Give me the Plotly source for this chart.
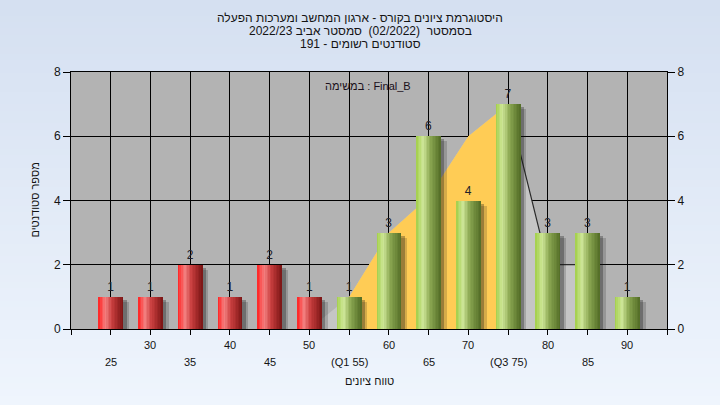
import base64
import struct
import zlib

import plotly.graph_objects as go

# ---------------- data ----------------
categories = [25, 30, 35, 40, 45, 50, 55, 60, 65, 70, 75, 80, 85, 90]
counts = [1, 1, 2, 1, 2, 1, 1, 3, 6, 4, 7, 3, 3, 1]
tick_labels = ["25", "30", "35", "40", "45", "50", "(Q1 55)", "60", "65", "70",
               "(Q3 75)", "80", "85", "90"]
pass_mark = 55
q1, q3 = 55, 75

# distribution curve drawn behind the bars
curve_x = [50, 55, 60, 65, 70, 75, 80, 85]
curve_y = [0, 1, 3, 4.1, 6, 7, 2, 2]

title_lines = [
    "היסטוגרמת ציונים בקורס - ארגון המחשב ומערכות הפעלה",
    "בסמסטר  (02/2022)  סמסטר אביב 2022/23",
    "סטודנטים רשומים - 191",
]
legend_text = "במשימה : Final_B"
x_title = "טווח ציונים"
y_title = "מספר סטודנטים"
y_ticks = [0, 2, 4, 6, 8]

# ---------------- geometry / style ----------------
W, H = 720, 405
ML, MR, MT, MB = 71, 53, 72, 76
PW, PH = W - ML - MR, H - MT - MB
FONT = "Liberation Sans, Arial, DejaVu Sans, sans-serif"
BAR_W = 3.1
N_STRIPS = 16

red_stops = [(0.0, (255, 32, 32)), (0.27, (244, 128, 128)), (0.55, (200, 62, 62)), (1.0, (122, 20, 20))]
green_stops = [(0.0, (162, 206, 72)), (0.27, (206, 231, 152)), (0.55, (140, 168, 82)), (1.0, (82, 108, 38))]


def interp(stops, t):
    for (t0, c0), (t1, c1) in zip(stops[:-1], stops[1:]):
        if t0 <= t <= t1:
            f = (t - t0) / (t1 - t0)
            return "rgb(%d,%d,%d)" % tuple(round(a + (b - a) * f) for a, b in zip(c0, c1))
    return "rgb(%d,%d,%d)" % stops[-1][1]


def py(ypix):
    return (H - MB - ypix) / PH


def px(xpix):
    return (xpix - ML) / PW


def gradient_png(h, top, bottom):
    raw = b""
    for i in range(h):
        t = i / (h - 1)
        c = bytes(round(top[k] + (bottom[k] - top[k]) * t) for k in range(3))
        raw += b"\x00" + c * 2

    def chunk(tag, data):
        return struct.pack(">I", len(data)) + tag + data + struct.pack(">I", zlib.crc32(tag + data) & 0xFFFFFFFF)

    ihdr = struct.pack(">IIBBBBB", 2, h, 8, 2, 0, 0, 0)
    png = b"\x89PNG\r\n\x1a\n" + chunk(b"IHDR", ihdr) + chunk(b"IDAT", zlib.compress(raw)) + chunk(b"IEND", b"")
    return "data:image/png;base64," + base64.b64encode(png).decode()


fig = go.Figure()

# distribution area (light grey), IQR area (yellow), right outline -- on the main (lower) subplot
fig.add_scatter(x=curve_x, y=curve_y, mode="lines", fill="tozeroy",
                fillcolor="#c5c5c5", line=dict(width=0, color="#c5c5c5"),
                hoverinfo="skip", showlegend=False)
iqr = [(x, y) for x, y in zip(curve_x, curve_y) if q1 <= x <= q3]
fig.add_scatter(x=[p[0] for p in iqr], y=[p[1] for p in iqr], mode="lines", fill="tozeroy",
                fillcolor="#ffcc55", line=dict(width=0, color="#ffcc55"),
                hoverinfo="skip", showlegend=False)
tail = [(x, y) for x, y in zip(curve_x, curve_y) if x >= q3]
fig.add_scatter(x=[p[0] for p in tail], y=[p[1] for p in tail], mode="lines",
                line=dict(width=1.2, color="#2a2a2a"), hoverinfo="skip", showlegend=False)

# bar shadows (overlay subplot, above the curve)
for off, alpha, drop in [(0.75, 0.18, 0.16), (0.45, 0.3, 0.1)]:
    fig.add_bar(x=categories, y=[v - drop for v in counts], width=BAR_W,
                offset=-BAR_W / 2 + off, yaxis="y2",
                marker=dict(color="rgba(20,20,20,%s)" % alpha, line=dict(width=0)),
                hoverinfo="skip", showlegend=False)

# bars with cylindrical gradient made of vertical strips
sw = BAR_W / N_STRIPS
for k in range(N_STRIPS):
    t = (k + 0.5) / N_STRIPS
    colors = [interp(red_stops if c < pass_mark else green_stops, t) for c in categories]
    fig.add_bar(x=categories, y=counts, width=sw + 0.03, offset=-BAR_W / 2 + k * sw, yaxis="y2",
                marker=dict(color=colors, line=dict(width=0)),
                hoverinfo="skip", showlegend=False)

# value labels (transparent bar carrying outside text)
fig.add_bar(x=categories, y=counts, width=BAR_W, offset=-BAR_W / 2, yaxis="y2",
            marker=dict(color="rgba(0,0,0,0)", line=dict(width=0)),
            text=[str(v) for v in counts], textposition="outside", constraintext="none",
            textangle=0, cliponaxis=False,
            outsidetextfont=dict(size=12, color="#20202a", family=FONT),
            hoverinfo="skip", showlegend=False)

annotations = []
for i, line in enumerate(title_lines):
    annotations.append(dict(text=line, xref="paper", yref="paper", x=px(360), y=py(18 + 13 * i),
                            showarrow=False, xanchor="center", yanchor="middle",
                            font=dict(size=12, color="#141414", family=FONT)))
for i, (v, lab) in enumerate(zip(categories, tick_labels)):
    row_y = 345 if i % 2 == 1 else 362
    annotations.append(dict(text=lab, xref="x", yref="paper", x=v, y=py(row_y),
                            showarrow=False, xanchor="center", yanchor="middle",
                            font=dict(size=11, color="#141414", family=FONT)))
annotations.append(dict(text=x_title, xref="paper", yref="paper", x=0.5, y=py(381),
                        showarrow=False, xanchor="center", yanchor="middle",
                        font=dict(size=11, color="#141414", family=FONT)))
annotations.append(dict(text=y_title, xref="paper", yref="paper", x=px(34), y=0.5, textangle=-90,
                        showarrow=False, xanchor="center", yanchor="middle",
                        font=dict(size=11, color="#141414", family=FONT)))
annotations.append(dict(text=legend_text, xref="paper", yref="paper", x=px(367.5), y=py(86),
                        showarrow=False, xanchor="center", yanchor="middle",
                        font=dict(size=11, color="#1a101a", family=FONT)))

axis_common = dict(showline=True, linecolor="black", linewidth=1, ticks="outside",
                   tickcolor="black", zeroline=False)

fig.update_layout(
    width=W, height=H,
    margin=dict(l=ML, r=MR, t=MT, b=MB, pad=0),
    paper_bgcolor="#e4ecf7",
    plot_bgcolor="rgba(0,0,0,0)",
    barmode="overlay",
    bargap=0,
    showlegend=False,
    hovermode=False,
    font=dict(family=FONT, size=12, color="#141414"),
    xaxis=dict(range=[20, 95], tickvals=list(range(20, 96, 5)), showticklabels=False,
               ticklen=5, showgrid=True, gridcolor="black", gridwidth=1, mirror=True,
               **axis_common),
    yaxis=dict(range=[0, 8], tickvals=y_ticks, ticklen=7, showgrid=True, gridcolor="black",
               gridwidth=1, tickfont=dict(size=12, color="#141414"), **axis_common),
    yaxis2=dict(range=[0, 8], tickvals=y_ticks, ticklen=7, overlaying="y", side="right",
                showgrid=False, tickfont=dict(size=12, color="#141414"), **axis_common),
    annotations=annotations,
    images=[dict(source=gradient_png(64, (213, 224, 241), (239, 245, 253)),
                 xref="paper", yref="paper", x=-ML / PW, y=1 + MT / PH,
                 sizex=W / PW, sizey=H / PH, sizing="stretch",
                 xanchor="left", yanchor="top", layer="below")],
    shapes=[dict(type="rect", xref="paper", yref="paper", x0=0, x1=1, y0=0, y1=1,
                 fillcolor="#b3b3b3", line=dict(width=0), layer="below")],
)

fig.write_html("out.html", config={"displayModeBar": False, "staticPlot": True},
               post_script="document.body.style.margin='0';")
